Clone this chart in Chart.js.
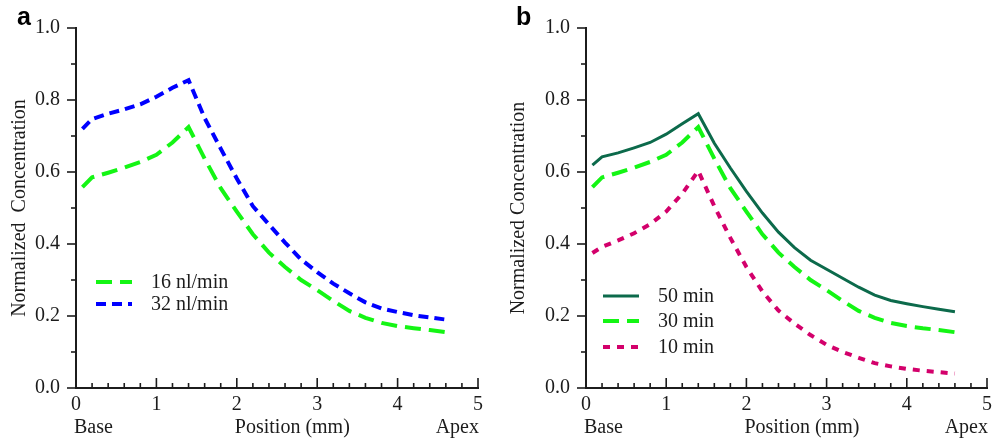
<!DOCTYPE html>
<html>
<head>
<meta charset="utf-8">
<script src="https://cdn.jsdelivr.net/npm/chart.js@4/dist/chart.umd.min.js"></script>
<style>
  html, body { margin: 0; padding: 0; background: #fff; }
  #wrap { position: relative; width: 998px; height: 445px; overflow: hidden; }
  canvas { position: absolute; top: 0; }
  #chartA { left: 0; }
  #chartB { left: 499px; }
</style>
</head>
<body>
<div id="wrap">
  <canvas id="chartA" width="499" height="445"></canvas>
  <canvas id="chartB" width="499" height="445"></canvas>
</div>
<script>
// positions along the cochlea (mm), shared by every curve
const positions = [0.08, 0.2, 0.4, 0.6, 0.8, 1.0, 1.2, 1.4, 1.6, 1.8, 2.0, 2.2, 2.4, 2.6, 2.8, 3.0, 3.2, 3.4, 3.6, 3.8, 4.0, 4.2, 4.4, 4.6];

// panel a: flow rates
const flow16 = [0.558, 0.585, 0.598, 0.612, 0.628, 0.648, 0.682, 0.725, 0.637, 0.555, 0.49, 0.427, 0.376, 0.336, 0.30, 0.272, 0.242, 0.214, 0.195, 0.181, 0.172, 0.166, 0.161, 0.155];
const flow32 = [0.72, 0.747, 0.762, 0.774, 0.788, 0.809, 0.834, 0.855, 0.75, 0.665, 0.582, 0.505, 0.454, 0.404, 0.357, 0.322, 0.29, 0.263, 0.238, 0.221, 0.211, 0.202, 0.196, 0.19];

// panel b: perfusion times
const min50 = [0.619, 0.642, 0.653, 0.667, 0.682, 0.705, 0.734, 0.762, 0.68, 0.611, 0.546, 0.486, 0.433, 0.39, 0.355, 0.33, 0.305, 0.28, 0.258, 0.243, 0.234, 0.226, 0.219, 0.212];
const min30 = flow16.slice();
const min10 = [0.375, 0.392, 0.41, 0.43, 0.455, 0.49, 0.54, 0.603, 0.505, 0.417, 0.336, 0.268, 0.215, 0.179, 0.147, 0.12, 0.1, 0.084, 0.069, 0.06, 0.053, 0.048, 0.044, 0.04];

const xTicks = [0, 1, 2, 3, 4, 5];
const yTicks = [0, 0.2, 0.4, 0.6, 0.8, 1.0];
const bottomLabels = ['Base', 'Position (mm)', 'Apex'];

const INK = '#1c1c1c';
const SERIF = '"Liberation Serif", "Times New Roman", serif';
const LIME = '#14f514';
const BLUE = '#0000ff';
const PINE = '#0c6a4b';
const BERRY = '#d3006b';

Chart.defaults.font.family = SERIF;
Chart.defaults.font.size = 20;
Chart.defaults.color = INK;

function pts(ys) {
  return positions.map((x, i) => ({ x, y: ys[i] }));
}

function line(label, ys, color, width, dash) {
  return {
    label,
    data: pts(ys),
    borderColor: color,
    borderWidth: width,
    borderDash: dash,
    borderCapStyle: 'butt',
    pointRadius: 0,
    tension: 0,
    fill: false
  };
}

// ticks, legend, panel letter and base/apex labels
const decor = {
  id: 'decor',
  afterDraw(chart, _args, o) {
    const { ctx } = chart;
    const xs = chart.scales.x;
    const ys = chart.scales.y;
    const ca = chart.chartArea;
    ctx.save();
    ctx.strokeStyle = INK;
    ctx.lineWidth = 1.6;
    ctx.setLineDash([]);
    // x ticks point up into the plot
    for (let i = 0; i <= 25; i++) {
      const px = xs.getPixelForValue(i / 5);
      const len = i % 5 === 0 ? 10 : 5;
      ctx.beginPath();
      ctx.moveTo(px, ca.bottom);
      ctx.lineTo(px, ca.bottom - len);
      ctx.stroke();
    }
    // y ticks point out to the left
    for (let i = 0; i <= 10; i++) {
      const py = ys.getPixelForValue(i / 10);
      const len = i % 2 === 0 ? 9 : 5;
      ctx.beginPath();
      ctx.moveTo(ca.left, py);
      ctx.lineTo(ca.left - len, py);
      ctx.stroke();
    }

    // legend
    ctx.font = '20px ' + SERIF;
    ctx.fillStyle = INK;
    ctx.textBaseline = 'middle';
    ctx.textAlign = 'left';
    chart.data.datasets.forEach((ds, i) => {
      const y = o.legendY[i];
      ctx.save();
      ctx.strokeStyle = ds.borderColor;
      ctx.lineWidth = ds.borderWidth;
      ctx.lineCap = 'butt';
      ctx.setLineDash(ds.borderDash || []);
      ctx.beginPath();
      ctx.moveTo(o.legendX, y);
      ctx.lineTo(o.legendX + 36, y);
      ctx.stroke();
      ctx.restore();
      ctx.fillText(ds.label, o.legendText, y + 1);
    });

    // base / position / apex
    ctx.textBaseline = 'alphabetic';
    ctx.textAlign = 'left';
    ctx.fillText(bottomLabels[0], xs.getPixelForValue(0) - 2, 433);
    ctx.fillText(bottomLabels[1], xs.getPixelForValue(2) - 2, 433);
    ctx.textAlign = 'right';
    ctx.fillText(bottomLabels[2], xs.getPixelForValue(5) + 1, 433);

    // panel letter
    ctx.textAlign = 'left';
    ctx.font = 'bold 25px "Liberation Sans", Arial, sans-serif';
    ctx.fillStyle = '#000';
    ctx.fillText(o.letter, o.letterX, 25);
    ctx.restore();
  }
};

function makeChart(id, datasets, yWidth, rightPad, yTitle, deco) {
  const tickFont = { family: SERIF, size: 20, weight: 'normal' };
  return new Chart(document.getElementById(id), {
    type: 'line',
    data: { datasets },
    options: {
      responsive: false,
      animation: false,
      events: [],
      layout: { padding: { left: 0, right: rightPad, top: 18, bottom: 0 } },
      plugins: {
        legend: { display: false },
        tooltip: { enabled: false },
        decor: deco
      },
      scales: {
        x: {
          type: 'linear',
          min: 0,
          max: 5,
          afterBuildTicks: (s) => { s.ticks = xTicks.map((v) => ({ value: v })); },
          afterFit: (s) => { s.height = 57; },
          grid: { display: false, drawTicks: false },
          border: { display: true, color: INK, width: 2 },
          ticks: { font: tickFont, color: INK, padding: 5, maxRotation: 0 }
        },
        y: {
          type: 'linear',
          min: 0,
          max: 1,
          afterBuildTicks: (s) => { s.ticks = yTicks.map((v) => ({ value: v })); },
          afterFit: (s) => { s.width = yWidth; },
          grid: { display: false, drawTicks: false },
          border: { display: true, color: INK, width: 2 },
          title: {
            display: true,
            text: yTitle,
            font: { family: SERIF, size: 20 },
            color: INK,
            padding: { top: 8, bottom: 0 }
          },
          ticks: {
            font: tickFont,
            color: INK,
            padding: 16,
            callback: (v) => Number(v).toFixed(1)
          }
        }
      }
    },
    plugins: [decor]
  });
}

makeChart('chartA', [
  line('16 nl/min', flow16, LIME, 4, [16, 8]),
  line('32 nl/min', flow32, BLUE, 4, [10, 6])
], 76, 21, 'Normalized  Concentration', {
  letter: 'a', letterX: 17, legendX: 96, legendText: 151, legendY: [282, 304]
});

makeChart('chartB', [
  line('50 min', min50, PINE, 3, []),
  line('30 min', min30, LIME, 4, [16, 8]),
  line('10 min', min10, BERRY, 4, [7, 7])
], 87, 11, 'Normalized Concentration', {
  letter: 'b', letterX: 17, legendX: 104, legendText: 159, legendY: [296, 321, 347]
});
</script>
</body>
</html>
